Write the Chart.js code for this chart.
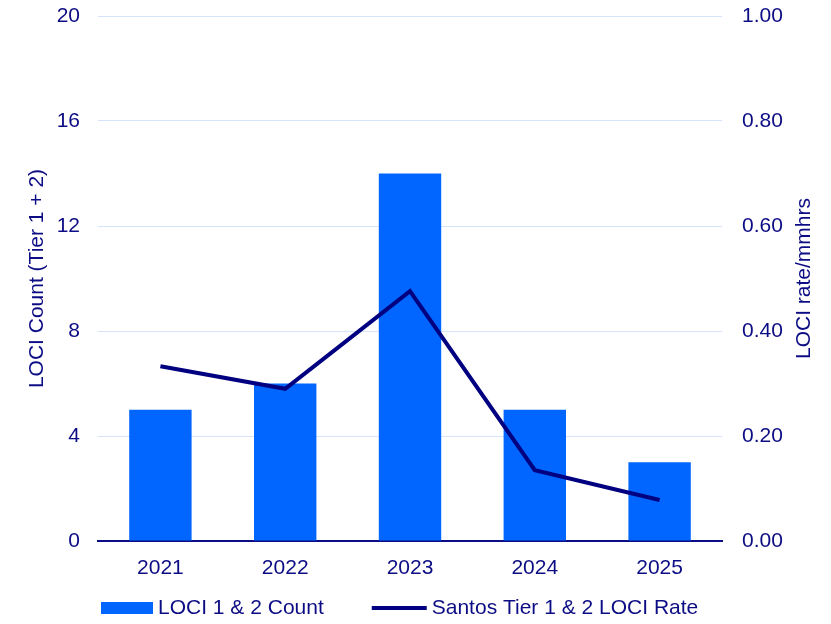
<!DOCTYPE html>
<html>
<head>
<meta charset="utf-8">
<script src="https://cdn.jsdelivr.net/npm/chart.js@4/dist/chart.umd.min.js"></script>
<style>
  html, body { margin: 0; padding: 0; background: #ffffff; }
  #wrap { width: 831px; height: 624px; }
</style>
</head>
<body>
<div id="wrap"><canvas id="c" width="831" height="624"></canvas></div>
<script>
// Yearly loss-of-containment incidents (Tier 1 + 2) and the rate per million man-hours
const years = ['2021', '2022', '2023', '2024', '2025'];
const lociCount = [5, 6, 14, 5, 3];
const lociRate = [0.333, 0.290, 0.476, 0.135, 0.078];
const countTicks = [0, 4, 8, 12, 16, 20];
const rateTicks = [0, 0.2, 0.4, 0.6, 0.8, 1.0];
const seriesNames = ['LOCI 1 & 2 Count', 'Santos Tier 1 & 2 LOCI Rate'];
const axisTitles = ['LOCI Count (Tier 1 + 2)', 'LOCI rate/mmhrs'];

const TEXT = '#0c0c84';
const BAR = '#0066ff';
const LINE = '#000080';
const GRID = '#d4e4fa';
const FAMILY = '"Liberation Sans", Arial, sans-serif';
const SIZE = 21;

// Axis titles (both read bottom-to-top) and the legend row under the axis
const decor = {
  id: 'decor',
  afterDraw(chart) {
    const { ctx, chartArea: a } = chart;
    const midY = (a.top + a.bottom) / 2;
    ctx.save();
    ctx.font = SIZE + 'px ' + FAMILY;
    ctx.fillStyle = TEXT;
    ctx.textAlign = 'center';
    ctx.textBaseline = 'middle';

    ctx.save();
    ctx.translate(37, midY);
    ctx.rotate(-Math.PI / 2);
    ctx.fillText(axisTitles[0], 0, 0);
    ctx.restore();

    ctx.save();
    ctx.translate(804, midY);
    ctx.rotate(-Math.PI / 2);
    ctx.fillText(axisTitles[1], 0, 0);
    ctx.restore();

    const bars = chart.data.datasets.find(d => d.type === 'bar');
    const line = chart.data.datasets.find(d => d.type === 'line');
    const ly = 608;
    let x = 101;
    ctx.textAlign = 'left';
    ctx.fillStyle = bars.backgroundColor;
    ctx.fillRect(x, ly - 6, 52, 12);
    x += 57;
    ctx.fillStyle = TEXT;
    ctx.fillText(bars.label, x, ly);
    x += ctx.measureText(bars.label).width + 48;
    ctx.strokeStyle = line.borderColor;
    ctx.lineWidth = 4;
    ctx.beginPath();
    ctx.moveTo(x, ly);
    ctx.lineTo(x + 55, ly);
    ctx.stroke();
    x += 60;
    ctx.fillText(line.label, x, ly);
    ctx.restore();
  }
};

// Fixed axis band sizes so the plot area sits where the design wants it
function fitVertical(width) {
  return s => { s.width = width; s.paddingTop = 0; s.paddingBottom = 0; };
}

new Chart(document.getElementById('c'), {
  data: {
    labels: years,
    datasets: [
      {
        type: 'bar',
        label: seriesNames[0],
        data: lociCount,
        yAxisID: 'count',
        backgroundColor: BAR,
        borderWidth: 0,
        barPercentage: 0.5,
        categoryPercentage: 1.0,
        order: 1
      },
      {
        type: 'line',
        label: seriesNames[1],
        data: lociRate,
        yAxisID: 'rate',
        borderColor: LINE,
        borderWidth: 4,
        borderJoinStyle: 'miter',
        tension: 0,
        pointRadius: 0,
        fill: false,
        order: 0
      }
    ]
  },
  plugins: [decor],
  options: {
    responsive: false,
    animation: false,
    devicePixelRatio: 1,
    layout: { padding: { top: 16, bottom: 38, left: 0, right: 0 } },
    plugins: {
      legend: { display: false },
      tooltip: { enabled: false }
    },
    scales: {
      x: {
        grid: { display: false, drawTicks: false },
        border: { display: true, color: TEXT, width: 2 },
        ticks: { color: TEXT, font: { family: FAMILY, size: SIZE }, padding: 15, maxRotation: 0 },
        afterFit(s) { s.height = 45; s.paddingLeft = 0; s.paddingRight = 0; }
      },
      count: {
        type: 'linear',
        position: 'left',
        min: countTicks[0],
        max: countTicks[countTicks.length - 1],
        afterBuildTicks(s) { s.ticks = countTicks.map(v => ({ value: v })); },
        grid: { color: GRID, lineWidth: 1, drawTicks: false },
        border: { display: false },
        ticks: { color: TEXT, font: { family: FAMILY, size: SIZE }, padding: 18,
                 callback: v => String(v) },
        afterFit: fitVertical(98)
      },
      rate: {
        type: 'linear',
        position: 'right',
        min: rateTicks[0],
        max: rateTicks[rateTicks.length - 1],
        afterBuildTicks(s) { s.ticks = rateTicks.map(v => ({ value: v })); },
        grid: { display: false, drawTicks: false },
        border: { display: false },
        ticks: { color: TEXT, font: { family: FAMILY, size: SIZE }, padding: 20,
                 callback: v => Number(v).toFixed(2) },
        afterFit: fitVertical(109)
      }
    }
  }
});
</script>
</body>
</html>
